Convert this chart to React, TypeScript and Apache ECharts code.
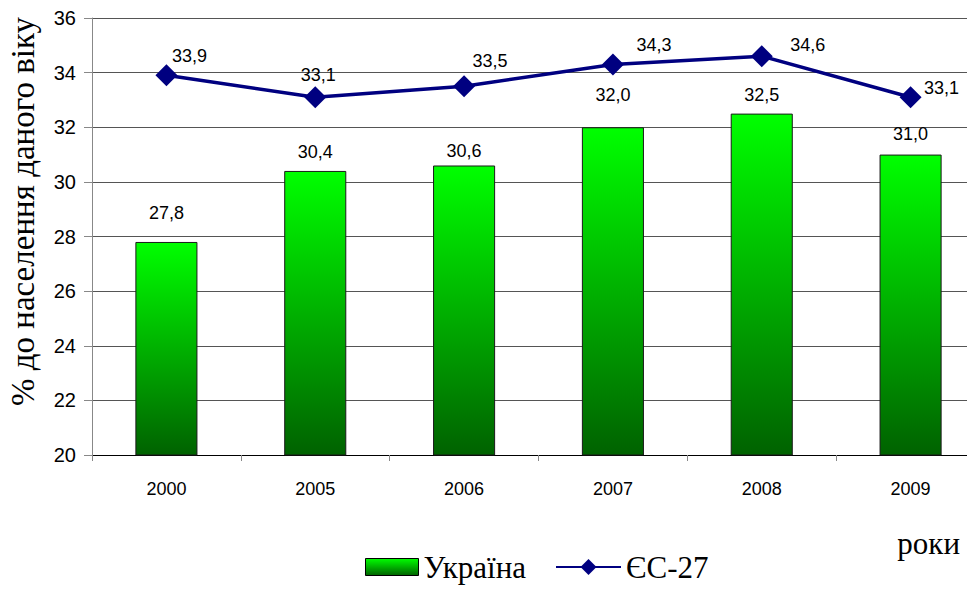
import React, { useEffect, useRef } from "react";
import * as echarts from "echarts";

const years = ["2000", "2005", "2006", "2007", "2008", "2009"];
const ukraine = [27.8, 30.4, 30.6, 32.0, 32.5, 31.0];
const eu27 = [33.9, 33.1, 33.5, 34.3, 34.6, 33.1];
const seriesNames = ["Україна", "ЄС-27"];
const yAxisName = "% до населення даного віку";
const xAxisName = "роки";

// label placement (styling only), as in the original chart
const barLabelRise = [29, 19, 14, 32, 19, 21];
const lineLabelShift = [
  [23, -19],
  [3, -22],
  [26, -25],
  [41, -19],
  [46, -11],
  [31, -9],
];

const fmt = (v: number) => v.toFixed(1).replace(".", ",");
const SERIF = "Liberation Serif";

export default function App() {
  const ref = useRef<HTMLDivElement>(null);
  useEffect(() => {
    if (!ref.current) return;
    const chart = echarts.init(ref.current, null, { renderer: "svg" });
    const barGradient = new echarts.graphic.LinearGradient(0, 0, 0, 1, [
      { offset: 0, color: "#00ff00" },
      { offset: 1, color: "#006200" },
    ]);
    chart.setOption({
      animation: false,
      backgroundColor: "#ffffff",
      grid: {
        left: 84,
        right: 0,
        top: 10,
        bottom: 135,
        containLabel: false,
        outerBoundsMode: "none",
      },
      legend: [
        {
          top: 541,
          left: 352,
          padding: [2, 5, 2, 5],
          itemWidth: 53,
          itemHeight: 17,
          textStyle: { fontFamily: SERIF, fontSize: 31, color: "#000", lineHeight: 32 },
          data: [
            {
              name: seriesNames[0],
              icon: "rect",
              itemStyle: { color: barGradient, borderColor: "#000", borderWidth: 1 },
            },
          ],
        },
        {
          top: 541,
          left: 542,
          padding: [2, 5, 2, 5],
          itemWidth: 65,
          itemHeight: 20,
          textStyle: { fontFamily: SERIF, fontSize: 31, color: "#000", lineHeight: 32 },
          data: [{ name: seriesNames[1], itemStyle: { color: "#000080" } }],
        },
      ],
      graphic: [
        {
          type: "text",
          x: 952,
          y: 535,
          style: {
            text: xAxisName,
            fontFamily: SERIF,
            fontSize: 31,
            fill: "#000",
            align: "right",
            verticalAlign: "middle",
          },
        },
      ],
      xAxis: {
        type: "category",
        data: years,
        axisLine: { show: true, lineStyle: { color: "#000", width: 1 } },
        axisTick: { show: true, alignWithLabel: false, length: 6, lineStyle: { color: "#888" } },
        axisLabel: { fontFamily: "Liberation Sans", fontSize: 18, color: "#000", margin: 25 },
      },
      yAxis: {
        type: "value",
        min: 20,
        max: 36,
        interval: 2,
        axisLine: { show: true, lineStyle: { color: "#888", width: 1 } },
        axisTick: { show: true, length: 8, lineStyle: { color: "#888" } },
        splitLine: { show: true, lineStyle: { color: "#555", width: 1 } },
        axisLabel: { fontFamily: "Liberation Sans", fontSize: 20, color: "#000", margin: 16 },
        name: yAxisName,
        nameLocation: "middle",
        nameGap: 53,
        nameRotate: 90,
        nameTextStyle: {
          fontFamily: SERIF,
          fontSize: 33,
          color: "#000",
          padding: [0, 0, 0, 50],
        },
      },
      series: [
        {
          name: seriesNames[0],
          type: "bar",
          data: ukraine.map((v, i) => ({
            value: v,
            label: { offset: [0, -barLabelRise[i] + 9] },
          })),
          barWidth: "41.7%",
          itemStyle: { color: barGradient, borderColor: "#1a1a1a", borderWidth: 1 },
          label: {
            show: true,
            position: "top",
            distance: 0,
            formatter: (p: any) => fmt(p.value),
            fontFamily: "Liberation Sans",
            fontSize: 18,
            color: "#000",
          },
        },
        {
          name: seriesNames[1],
          type: "line",
          data: eu27.map((v, i) => ({
            value: v,
            label: { offset: lineLabelShift[i] },
          })),
          symbol: "diamond",
          symbolSize: 22,
          itemStyle: { color: "#000080" },
          lineStyle: { color: "#000080", width: 3.5 },
          label: {
            show: true,
            position: "inside",
            formatter: (p: any) => fmt(p.value),
            fontFamily: "Liberation Sans",
            fontSize: 18,
            color: "#000",
          },
          z: 5,
        },
      ],
    });
    return () => chart.dispose();
  }, []);
  return (
    <div style={{ width: 967, height: 582, overflow: "hidden" }}>
      <div ref={ref} style={{ width: 977, height: 582 }} />
    </div>
  );
}
